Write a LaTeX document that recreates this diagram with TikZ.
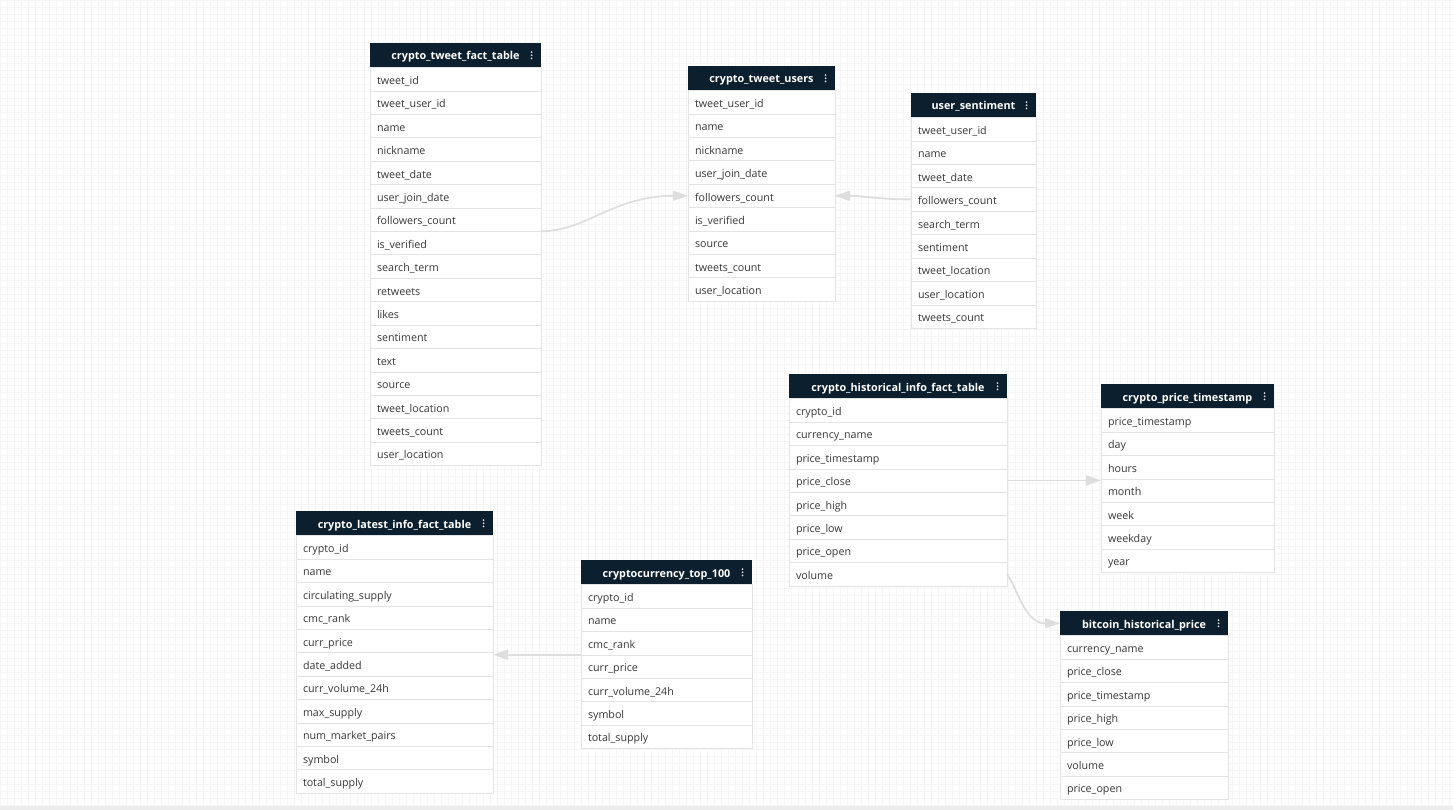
\documentclass[tikz,border=0pt]{standalone}
\usepackage{fontspec}
\setmainfont{Open Sans}
\usetikzlibrary{positioning, arrows.meta}

\definecolor{headbg}{HTML}{0C1F2E}
\definecolor{rowline}{HTML}{E4E4E4}
\definecolor{rowtext}{HTML}{383838}
\definecolor{linkgray}{HTML}{DEDEDE}
\definecolor{gridgray}{HTML}{F6F6F6}

\tikzset{
  tblhead/.style={fill=headbg, text=white, font=\bfseries\fontsize{10.8}{12}\selectfont,
    minimum height=24.5pt, inner sep=0pt, outer sep=0pt, anchor=north west,
    text height=9.5pt, text depth=0pt},
  tblrow/.style={draw=rowline, fill=white, text=rowtext, font=\fontsize{10.7}{12}\selectfont,
    minimum height=23.4pt, inner xsep=7pt, inner ysep=0pt, outer sep=0pt, align=left,
    text height=10.5pt, text depth=0pt},
  link/.style={draw=linkgray, line width=1.8pt, -{Triangle[length=15pt,width=10pt]}},
}

\newcommand{\erdtable}[5]{%
  \pgfmathsetmacro\rowtw{#3-14}
  \node[tblhead, minimum width=#3pt, alias=#1-0] (#1) at (#2) {#4};
  \foreach \d in {-3.2,0,3.2}
    \fill[white!70!gray] ([xshift=-9.5pt,yshift=\d pt]#1.east) circle (1pt);
  \foreach \f [count=\i] in {#5} {
    \pgfmathtruncatemacro\j{\i-1}
    \node[tblrow, text width=\rowtw pt, below=0pt of #1-\j] (#1-\i) {\f};
  }
}

\begin{document}
\begin{tikzpicture}[x=1pt, y=-1pt]
  \useasboundingbox (0,0) rectangle (1453,810);
  \fill[white] (0,0) rectangle (1453,810);
  \draw[gridgray, line width=0.5pt, step=7pt] (0,806) grid (1453,0);
  \fill[gray!15] (0,806) rectangle (1453,810);

  \erdtable{tweetfact}{370,43}{171}{crypto\_tweet\_fact\_table}{tweet\_id, tweet\_user\_id, name, nickname, tweet\_date, user\_join\_date, followers\_count, is\_verified, search\_term, retweets, likes, sentiment, text, source, tweet\_location, tweets\_count, user\_location}
  \erdtable{users}{688,66}{147}{crypto\_tweet\_users}{tweet\_user\_id, name, nickname, user\_join\_date, followers\_count, is\_verified, source, tweets\_count, user\_location}
  \erdtable{sentiment}{911,93}{125}{user\_sentiment}{tweet\_user\_id, name, tweet\_date, followers\_count, search\_term, sentiment, tweet\_location, user\_location, tweets\_count}
  \erdtable{hist}{789,374}{218}{crypto\_historical\_info\_fact\_table}{crypto\_id, currency\_name, price\_timestamp, price\_close, price\_high, price\_low, price\_open, volume}
  \erdtable{pricets}{1101,384}{173}{crypto\_price\_timestamp}{price\_timestamp, day, hours, month, week, weekday, year}
  \erdtable{bitcoin}{1060,611}{168}{bitcoin\_historical\_price}{currency\_name, price\_close, price\_timestamp, price\_high, price\_low, volume, price\_open}
  \erdtable{latest}{296,511}{197}{crypto\_latest\_info\_fact\_table}{crypto\_id, name, circulating\_supply, cmc\_rank, curr\_price, date\_added, curr\_volume\_24h, max\_supply, num\_market\_pairs, symbol, total\_supply}
  \erdtable{top100}{581,560}{171}{cryptocurrency\_top\_100}{crypto\_id, name, cmc\_rank, curr\_price, curr\_volume\_24h, symbol, total\_supply}

  \path[link] (tweetfact-7.south east) .. controls +(45,0) and +(-75,0) .. (users-5.west);
  \path[link] (sentiment-4.west) .. controls +(-35,0) and +(30,0) .. (users-5.east);
  \path[link] (hist-4.east) -- (hist-4.east -| pricets.west);
  \path[link] (hist-8.east) .. controls +(12,18) and +(-35,0) .. (bitcoin.west);
  \path[link] (top100-3.south west) -- (top100-3.south west -| latest.east);
\end{tikzpicture}
\end{document}
